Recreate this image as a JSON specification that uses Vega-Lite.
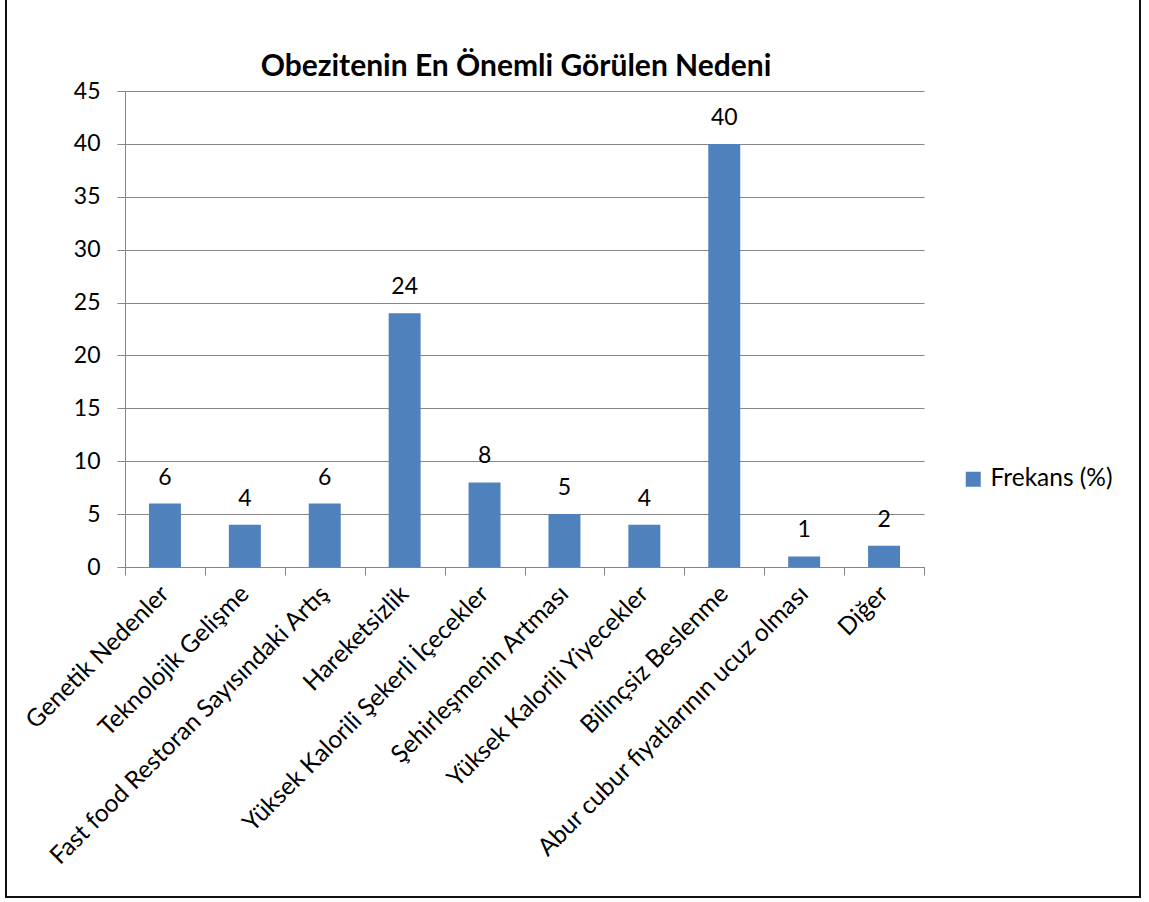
{
  "$schema": "https://vega.github.io/schema/vega-lite/v6.json",
  "width": 1134,
  "height": 900,
  "autosize": {"type": "none"},
  "padding": {"left": 6, "top": -3, "right": 9, "bottom": 5},
  "background": "white",
  "view": {"stroke": "#111111", "strokeWidth": 2},
  "title": {
    "text": "Obezitenin En Önemli Görülen Nedeni",
    "font": "Lato",
    "fontWeight": "bold",
    "fontSize": 30,
    "color": "#000000",
    "anchor": "middle",
    "frame": "group",
    "offset": -85,
    "dx": -57
  },
  "data": {
    "values": [
      {"neden": "Genetik Nedenler", "frekans": 6, "seri": "Frekans (%)"},
      {"neden": "Teknolojik Gelişme", "frekans": 4, "seri": "Frekans (%)"},
      {"neden": "Fast food Restoran Sayısındaki Artış", "frekans": 6, "seri": "Frekans (%)"},
      {"neden": "Hareketsizlik", "frekans": 24, "seri": "Frekans (%)"},
      {"neden": "Yüksek Kalorili Şekerli İçecekler", "frekans": 8, "seri": "Frekans (%)"},
      {"neden": "Şehirleşmenin Artması", "frekans": 5, "seri": "Frekans (%)"},
      {"neden": "Yüksek Kalorili Yiyecekler", "frekans": 4, "seri": "Frekans (%)"},
      {"neden": "Bilinçsiz Beslenme", "frekans": 40, "seri": "Frekans (%)"},
      {"neden": "Abur cubur fiyatlarının ucuz olması", "frekans": 1, "seri": "Frekans (%)"},
      {"neden": "Diğer", "frekans": 2, "seri": "Frekans (%)"}
    ]
  },
  "encoding": {
    "x": {
      "field": "neden",
      "type": "nominal",
      "sort": null,
      "scale": {"range": [119, 918], "paddingInner": 0, "paddingOuter": 0},
      "axis": {
        "title": null,
        "offset": -330,
        "tickBand": "extent",
        "labelAngle": -45,
        "labelAlign": "right",
        "labelBaseline": "middle",
        "grid": false,
        "domainColor": "#868686",
        "tickColor": "#868686",
        "tickSize": 8,
        "labelFont": "Lato",
        "labelFontSize": 24.5,
        "labelColor": "#000000",
        "labelPadding": 15,
        "labelLimit": 1000,
        "labelOverlap": false
      }
    },
    "y": {
      "field": "frekans",
      "type": "quantitative",
      "scale": {"domain": [0, 45], "range": [570, 94], "nice": false, "zero": true},
      "axis": {
        "title": null,
        "offset": -119,
        "values": [0, 5, 10, 15, 20, 25, 30, 35, 40, 45],
        "grid": true,
        "gridColor": "#868686",
        "domainColor": "#868686",
        "tickColor": "#868686",
        "tickSize": 8,
        "labelFont": "Lato",
        "labelFontSize": 23,
        "labelColor": "#000000",
        "labelPadding": 17
      }
    }
  },
  "layer": [
    {
      "mark": {"type": "bar", "color": "#4F81BD", "width": {"band": 0.4}},
      "encoding": {
        "color": {
          "field": "seri",
          "type": "nominal",
          "scale": {"range": ["#4F81BD"]},
          "legend": {
            "title": null,
            "orient": "none",
            "legendX": 955,
            "legendY": 470,
            "symbolType": "square",
            "symbolSize": 225,
            "symbolStrokeWidth": 0,
            "labelFont": "Lato",
            "labelFontSize": 24.5,
            "labelColor": "#000000",
            "labelOffset": 5,
            "padding": 0
          }
        }
      }
    },
    {
      "mark": {"type": "text", "dy": -19, "baseline": "alphabetic", "font": "Lato", "fontSize": 23, "color": "#000000"},
      "encoding": {"text": {"field": "frekans", "type": "quantitative"}}
    }
  ]
}
